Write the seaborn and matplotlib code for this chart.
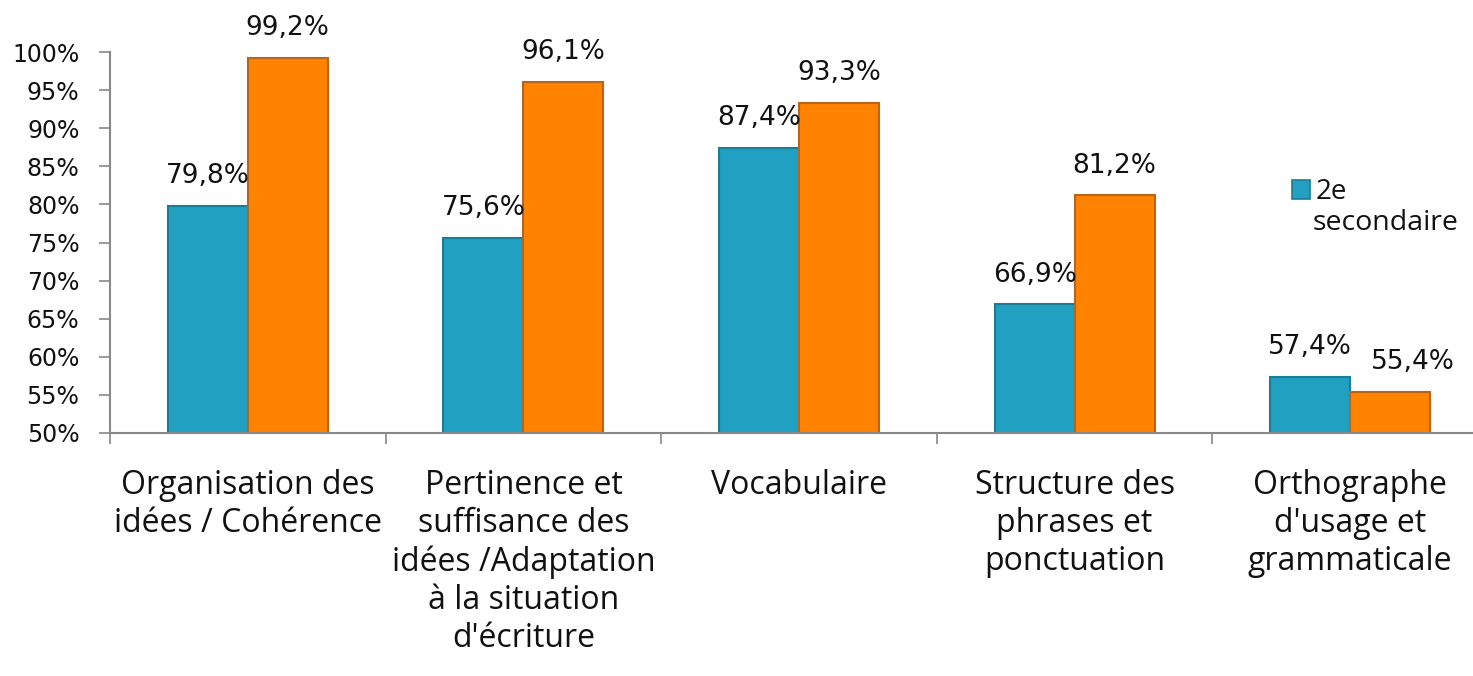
import matplotlib
matplotlib.use("Agg")
import matplotlib.pyplot as plt
import seaborn as sns
import pandas as pd
from matplotlib.patches import Patch

categories = [
    "Organisation des\nidées / Cohérence",
    "Pertinence et\nsuffisance des\nidées /Adaptation\nà la situation\nd'écriture",
    "Vocabulaire",
    "Structure des\nphrases et\nponctuation",
    "Orthographe\nd'usage et\ngrammaticale",
]
series_names = ["2e secondaire", "Autre"]
values_2e = [79.8, 75.6, 87.4, 66.9, 57.4]
values_other = [99.2, 96.1, 93.3, 81.2, 55.4]
ytick_values = [50, 55, 60, 65, 70, 75, 80, 85, 90, 95, 100]

colors = ["#22A0C1", "#FF8200"]
edges = ["#1A7D96", "#B8651A"]

df = pd.DataFrame({
    "cat": categories * 2,
    "serie": [series_names[0]] * 5 + [series_names[1]] * 5,
    "val": values_2e + values_other,
})

sns.set_theme(style="white")
plt.rcParams["font.family"] = ["Open Sans", "DejaVu Sans"]

fig = plt.figure(figsize=(14.73, 6.76), dpi=100)
ax = fig.add_axes([110 / 1473, 1 - 433 / 676, (1488 - 110) / 1473, (433 - 52) / 676])

sns.barplot(data=df, x="cat", y="val", hue="serie", palette=colors,
            width=0.58, ax=ax, legend=False, saturation=1)

n = len(categories)
for i, p in enumerate(ax.patches[: 2 * n]):
    s = i // n
    p.set_edgecolor(edges[s])
    p.set_linewidth(1.5)
    h = p.get_height()
    dx = 16 if i == 2 * n - 1 else 0
    ax.annotate(f"{h:.1f}".replace(".", ",") + "%",
                (p.get_x() + p.get_width() / 2, h),
                xytext=(dx, 12), textcoords="offset points",
                ha="center", va="bottom", fontsize=19,
                family="DejaVu Sans", color="#111111")

ax.set_ylim(50, 100)
ax.set_xlim(-0.5, n - 0.5)
ax.set_yticks(ytick_values)
ax.set_yticklabels([f"{v}%" for v in ytick_values], fontsize=17, color="#111111",
                   family="DejaVu Sans")
ax.set_xticks([i - 0.5 for i in range(n + 1)])
ax.set_xticklabels([""] * (n + 1))
ax.set_xticks(range(n), minor=True)
ax.set_xticklabels(categories, minor=True, fontsize=23, color="#111111")
ax.tick_params(axis="x", which="minor", length=0, pad=26, bottom=True)
ax.tick_params(axis="x", which="major", length=8, width=1.2, color="#888888",
               direction="out", bottom=True)
ax.tick_params(axis="y", length=8, width=1.2, color="#888888", direction="out",
               pad=14, left=True)
ax.set_xlabel("")
ax.set_ylabel("")
for sp in ["top", "right"]:
    ax.spines[sp].set_visible(False)
for sp in ["left", "bottom"]:
    ax.spines[sp].set_color("#888888")
    ax.spines[sp].set_linewidth(1.5)

handle = Patch(facecolor=colors[0], edgecolor=edges[0], linewidth=1.2)
leg = fig.legend([handle], ["2e"], loc="center left",
                 bbox_to_anchor=(1292 / 1473, 1 - 192 / 676), frameon=False,
                 fontsize=20, handlelength=0.65, handleheight=0.65,
                 handletextpad=0.2, borderpad=0, borderaxespad=0)
for t in leg.get_texts():
    t.set_color("#111111")
fig.text(1313 / 1473, 1 - 223 / 676, "secondaire", fontsize=20.5,
         ha="left", va="center", color="#111111")

fig.savefig("out.png", dpi=100)
